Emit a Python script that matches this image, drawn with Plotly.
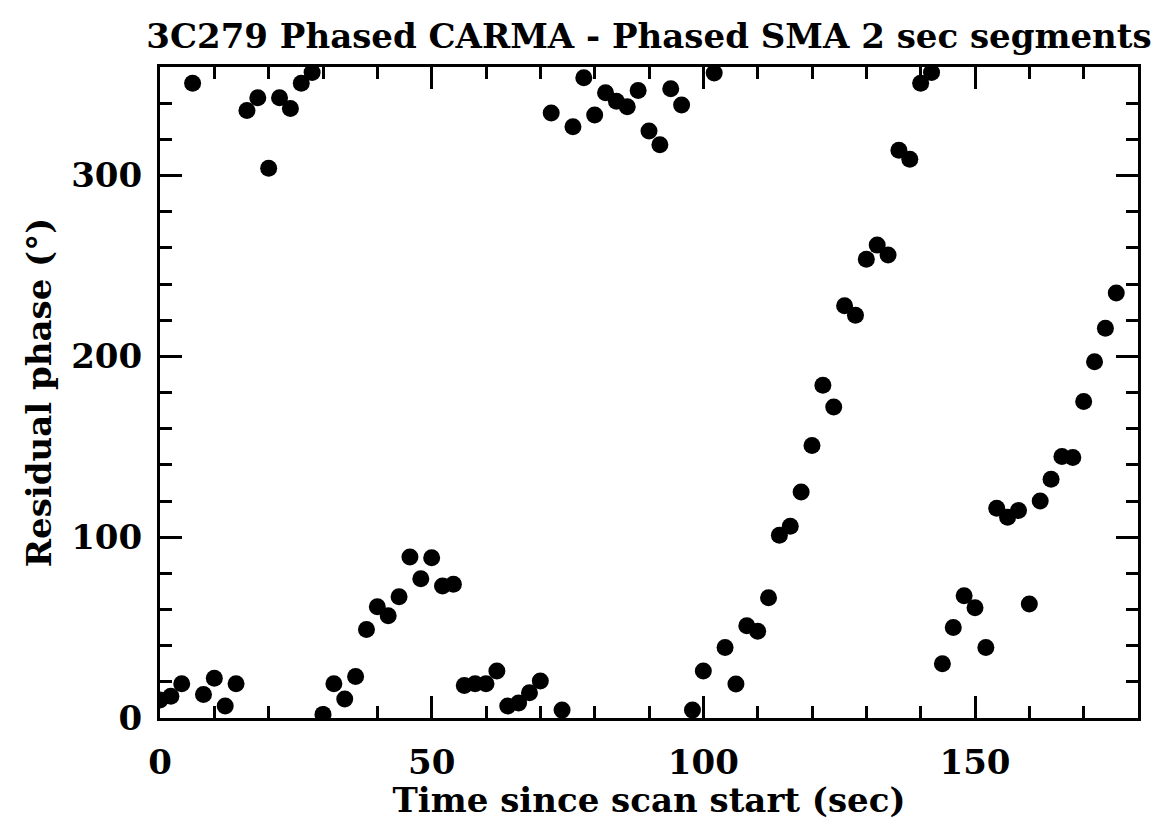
import plotly.graph_objects as go

time_sec = list(range(0, 178, 2))
phase_deg = [
    10, 12, 19, 351, 13, 22, 6.6, 19, 336, 343,
    304, 343, 337, 351, 357, 2, 19, 10.5, 23, 49,
    61.5, 56.5, 67, 89, 77, 88.6, 73, 74, 18, 19,
    19, 26, 6.6, 8.3, 14, 20.5, 334.6, 4.4, 327, 354,
    333.5, 345.7, 341, 338, 347, 324.6, 317, 348, 339, 4.4,
    26, 356.7, 39, 18.8, 51, 48, 66.5, 101, 106, 125,
    150.7, 184, 172, 228, 222.7, 253.7, 261.5, 256, 314, 309,
    351, 357, 30, 50, 67.6, 61, 39, 116, 111, 114.7,
    63, 120, 132, 144.6, 144, 175, 197, 215.5, 235,
]

title_text = "3C279 Phased CARMA - Phased SMA 2 sec segments"
x_title = "Time since scan start (sec)"
y_title = "Residual phase (°)"

FONT = "DejaVu Serif"
FS = 34

fig = go.Figure(
    go.Scatter(
        x=time_sec, y=phase_deg, mode="markers",
        marker=dict(color="black", size=17, line=dict(width=0)),
        cliponaxis=True,
    )
)

axis_common = dict(
    showline=True, linecolor="black", linewidth=3, mirror="allticks",
    ticks="inside", tickcolor="black", tickwidth=3, ticklen=22,
    showgrid=False, zeroline=False, automargin=False,
    tickfont=dict(family=FONT, size=FS, color="black", weight="bold"),
)

fig.update_layout(
    width=1162, height=820,
    margin=dict(l=160, r=24, t=67, b=102),
    paper_bgcolor="white", plot_bgcolor="white",
    showlegend=False,
    title=dict(text=title_text, x=(160 + 1138) / 2 / 1162, xanchor="center",
               y=1 - 36 / 820, yanchor="middle",
               font=dict(family=FONT, size=FS, color="black", weight="bold")),
    xaxis=dict(
        range=[0, 180], dtick=50, tick0=0,
        ticklabelstandoff=12,
        minor=dict(dtick=10, ticks="inside", ticklen=12, tickwidth=3, tickcolor="black"),
        title=dict(text=x_title, standoff=10,
                   font=dict(family=FONT, size=FS, color="black", weight="bold")),
        **axis_common,
    ),
    yaxis=dict(
        range=[0, 360], dtick=100, tick0=0,
        ticklabelstandoff=8,
        minor=dict(dtick=20, ticks="inside", ticklen=12, tickwidth=3, tickcolor="black"),
        title=dict(text=y_title, standoff=10,
                   font=dict(family=FONT, size=FS, color="black", weight="bold")),
        **axis_common,
    ),
)

fig.write_html("out.html")
